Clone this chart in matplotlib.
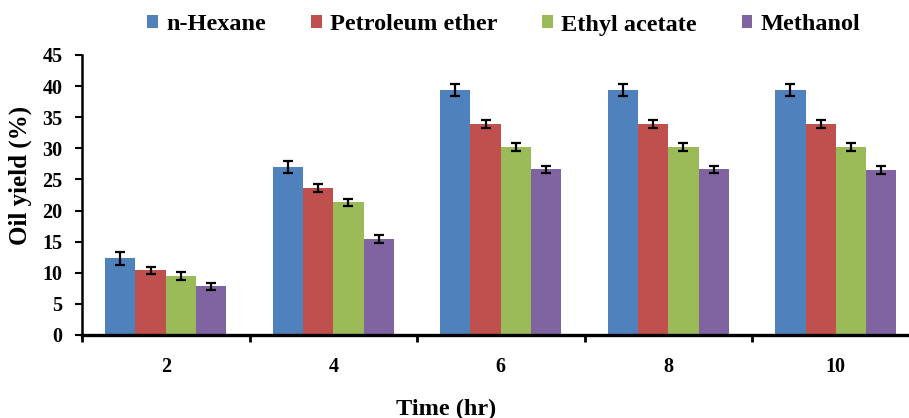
import numpy as np
import matplotlib
matplotlib.use("Agg")
import matplotlib.pyplot as plt

times = ["2", "4", "6", "8", "10"]
series = ["n-Hexane", "Petroleum ether", "Ethyl acetate", "Methanol"]
hexane = [12.3, 27.0, 39.4, 39.4, 39.4]
pet_ether = [10.4, 23.6, 33.9, 33.9, 33.9]
ethyl_acetate = [9.5, 21.3, 30.2, 30.2, 30.2]
methanol = [7.8, 15.4, 26.6, 26.6, 26.5]
hexane_err = [1.0, 1.0, 1.0, 1.0, 1.0]
pet_ether_err = [0.6, 0.6, 0.6, 0.6, 0.6]
ethyl_acetate_err = [0.6, 0.6, 0.6, 0.6, 0.6]
methanol_err = [0.6, 0.6, 0.6, 0.6, 0.6]

COLORS = ["#4f81bd", "#c0504d", "#9bbb59", "#8064a2"]

plt.rcParams["font.family"] = ["Liberation Serif", "DejaVu Serif"]
plt.rcParams["font.weight"] = "bold"

W, H = 909, 418
fig = plt.figure(figsize=(W / 100, H / 100), dpi=100)
# right edge of the plot lies beyond the image, as in the reference
left, right, bottom, top = 82, 919.6, 335, 55
ax = fig.add_axes([left / W, (H - bottom) / H, (right - left) / W, (bottom - top) / H])

x = np.arange(len(times))
bw = 0.181
values = [hexane, pet_ether, ethyl_acetate, methanol]
errors = [hexane_err, pet_ether_err, ethyl_acetate_err, methanol_err]
for i, (vals, errs) in enumerate(zip(values, errors)):
    ax.bar(x + (i - 1.5) * bw, vals, bw, color=COLORS[i], label=series[i],
           yerr=errs, capsize=3.5, error_kw=dict(elinewidth=1.6, capthick=1.6, ecolor="black"))

ax.set_xlim(-0.5, len(times) - 0.5)
ax.set_ylim(0, 45)
ax.set_yticks(np.arange(0, 46, 5))
ax.set_xticks(x)
ax.set_xticklabels(times)
ax.set_xticks(np.arange(-0.5, len(times), 1), minor=True)
ax.tick_params(axis="x", which="major", length=0, pad=16, labelsize=14.5)
ax.tick_params(axis="x", which="minor", length=5, width=2, direction="out")
ax.tick_params(axis="y", length=5, width=1.5, direction="out", pad=9, labelsize=14.5)
for lbl in ax.get_xticklabels() + ax.get_yticklabels():
    lbl.set_fontweight("bold")

for s in ["top", "right"]:
    ax.spines[s].set_visible(False)
ax.spines["left"].set_linewidth(1.8)
ax.spines["bottom"].set_linewidth(2.4)

fig.text(20 / W, 1 - 175 / H, "Oil yield (%)", rotation=90, ha="center", va="center",
         fontsize=18, fontweight="bold")
fig.text(446 / W, 1 - 409 / H, "Time (hr)", ha="center", va="center", fontsize=17.5, fontweight="bold")

leg = fig.legend(loc="center left", bbox_to_anchor=(147 / W, 1 - 25 / H), ncol=4, frameon=False,
                 fontsize=17.5, handlelength=0.45, handleheight=0.45, handletextpad=0.33,
                 columnspacing=1.85, borderpad=0, borderaxespad=0)
for t in leg.get_texts():
    t.set_fontweight("bold")

fig.savefig("out.png", dpi=100)
